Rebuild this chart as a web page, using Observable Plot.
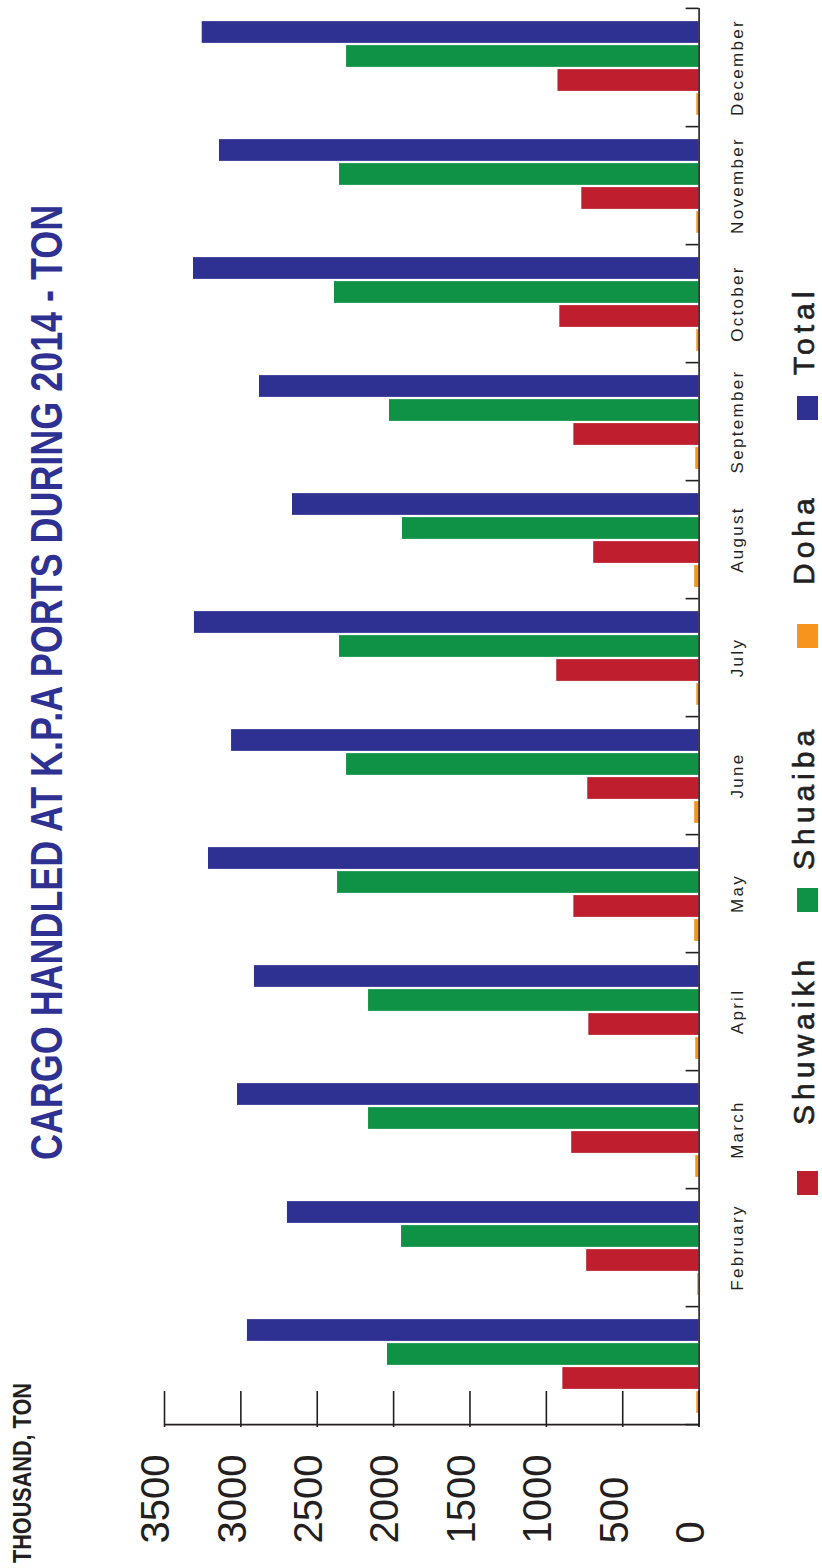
<!DOCTYPE html>
<html><head><meta charset="utf-8">
<script src="https://cdn.jsdelivr.net/npm/d3@7"></script>
<script src="https://cdn.jsdelivr.net/npm/@observablehq/plot@0.6"></script>
<style>
html,body{margin:0;padding:0;background:#fff;width:822px;height:1568px;overflow:hidden;}
#stage{position:absolute;left:0;top:0;width:1568px;height:822px;transform-origin:0 0;transform:translate(0px,1568px) rotate(-90deg);font-family:"Liberation Sans",Arial,Helvetica,sans-serif;background:#fff;}
#chart{position:absolute;left:0;top:0;}
#chart svg{font-family:"Liberation Sans",Arial,Helvetica,sans-serif;}
#chart g[aria-label="x-axis tick label"] text{letter-spacing:2.3px;}
#title{position:absolute;left:408px;top:25px;white-space:nowrap;font-weight:bold;font-size:44px;line-height:44px;color:#2E3192;transform-origin:0 0;display:inline-block;}
#unit{position:absolute;left:5px;top:10px;white-space:nowrap;font-weight:bold;font-size:25px;line-height:25px;color:#231f20;transform-origin:0 0;display:inline-block;}
.sw{position:absolute;top:797px;width:24px;height:21px;}
.lb{position:absolute;top:787px;height:34px;font-size:30px;line-height:34px;letter-spacing:5px;color:#231f20;white-space:nowrap;-webkit-text-stroke:0.6px #231f20;}
</style>
</head><body>
<div id="stage">
  <div id="chart"></div>
  <div id="unit">THOUSAND, TON</div>
  <div id="title">CARGO HANDLED AT K.P.A PORTS DURING 2014 - TON</div>
</div>
<script>
// ---- data (thousand tons) ----
const months = ["January","February","March","April","May","June","July","August","September","October","November","December"];
const shuwaikh = [892, 736, 834, 722, 820, 729, 932, 690, 820, 912, 768, 924];
const shuaiba  = [2040, 1948, 2164, 2164, 2367, 2308, 2354, 1942, 2027, 2387, 2354, 2308];
const doha     = [15, 9, 22, 22, 29, 29, 15, 29, 22, 15, 15, 15];
const total    = [2957, 2695, 3022, 2911, 3212, 3061, 3304, 2662, 2878, 3310, 3140, 3253];
const seriesNames = ["Doha", "Shuwaikh", "Shuaiba", "Total"];   // order inside each month group
const legendOrder = ["Shuwaikh", "Shuaiba", "Doha", "Total"];
const seriesColors = ["#F7941D", "#BE1E2D", "#0F9245", "#2E3192"];
const yTicks = [0, 500, 1000, 1500, 2000, 2500, 3000, 3500];

// ---- build table ----
const valuesBySeries = {Doha: doha, Shuwaikh: shuwaikh, Shuaiba: shuaiba, Total: total};
const rows = [];
seriesNames.forEach(s => months.forEach((m, i) => rows.push({month: m, series: s, value: valuesBySeries[s][i]})));

// ---- layout (unrotated frame: 1568 x 822, then rotated -90deg) ----
const W = 1568, H = 822, mL = 141, mR = 8, mT = 164, mB = 123.4;
const step = (W - mL - mR) / months.length;
const barW = 22, gap = 2;
const lead = (step - (seriesNames.length * barW + (seriesNames.length - 1) * gap)) / 2;
const ink = "#231f20";

const barMarks = seriesNames.map((s, i) => Plot.barY(rows.filter(r => r.series === s), {
  x: "month", y: "value", fill: "series",
  insetLeft: lead + i * (barW + gap),
  insetRight: step - lead - i * (barW + gap) - barW
}));

const chart = Plot.plot({
  width: W, height: H,
  marginLeft: mL, marginRight: mR, marginTop: mT, marginBottom: mB,
  style: {background: "transparent", color: ink},
  x: {type: "band", domain: months, padding: 0, axis: null},
  y: {domain: [0, 3500], axis: null},
  color: {domain: seriesNames, range: seriesColors},
  marks: [
    ...barMarks,
    Plot.ruleY([0], {stroke: ink, strokeWidth: 1.6}),
    Plot.ruleX(["January"], {dx: -step / 2, stroke: ink, strokeWidth: 1.6}),
    Plot.ruleX(months, {y1: 0, y2: 0, insetTop: -13, dx: -step / 2, stroke: ink, strokeWidth: 1.6}),
    Plot.ruleX(["December"], {y1: 0, y2: 0, insetTop: -13, dx: step / 2, stroke: ink, strokeWidth: 1.6}),
    Plot.axisY({ticks: yTicks, tickSize: 36, dx: 36, tickFormat: () => "", stroke: ink, strokeWidth: 1.6, label: null}),
    Plot.axisY({ticks: yTicks, tickSize: 0, tickPadding: 117, textAnchor: "start", fontSize: 40, dy: -8,
      fill: ink, stroke: ink, strokeWidth: 0.4, tickFormat: d => String(d), label: null}),
    Plot.axisX({anchor: "bottom", tickSize: 0, tickPadding: 32, fontSize: 17, fill: ink, stroke: ink, strokeWidth: 0.45, label: null,
      tickFormat: d => d === "January" ? "" : d})
  ]
});
document.getElementById("chart").appendChild(chart);

// ---- legend ----
const stage = document.getElementById("stage");
const swatchLeft = [373, 656, 920, 1148];
const labelLeft = [443, 698, 983, 1193];
legendOrder.forEach((s, k) => {
  const sw = document.createElement("div");
  sw.className = "sw";
  sw.style.left = swatchLeft[k] + "px";
  sw.style.background = seriesColors[seriesNames.indexOf(s)];
  const lb = document.createElement("div");
  lb.className = "lb";
  lb.style.left = labelLeft[k] + "px";
  lb.textContent = s;
  stage.appendChild(sw); stage.appendChild(lb);
});

// ---- condensed headings: fit to measured width ----
function fit(id, target) {
  const el = document.getElementById(id);
  const natural = el.offsetWidth;
  el.style.transform = `scaleX(${target / natural})`;
}
fit("title", 955);
fit("unit", 180);
</script>
</body></html>
